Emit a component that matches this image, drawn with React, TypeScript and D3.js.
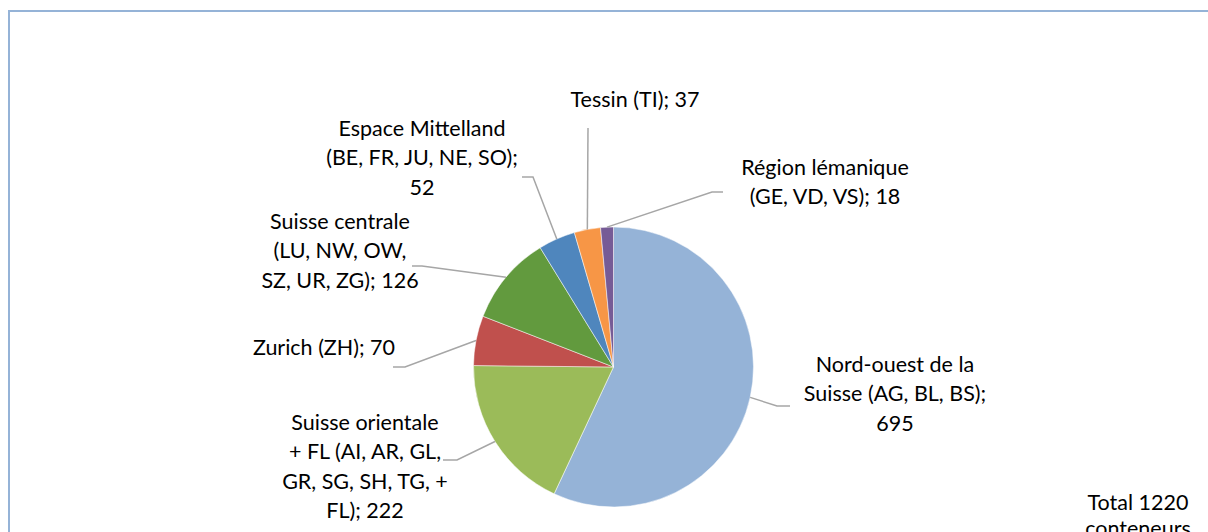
import React from 'react';
import * as d3 from 'd3';

// data
const regions = [
  'Nord-ouest de la Suisse (AG, BL, BS)',
  'Suisse orientale + FL (AI, AR, GL, GR, SG, SH, TG, + FL)',
  'Zurich (ZH)',
  'Suisse centrale (LU, NW, OW, SZ, UR, ZG)',
  'Espace Mittelland (BE, FR, JU, NE, SO)',
  'Tessin (TI)',
  'Région lémanique (GE, VD, VS)',
];
const counts = [695, 222, 70, 126, 52, 37, 18];
const labelLines = [
  ['Nord-ouest de la', 'Suisse (AG, BL, BS);', '695'],
  ['Suisse orientale', '+ FL (AI, AR, GL,', 'GR, SG, SH, TG, +', 'FL); 222'],
  ['Zurich (ZH); 70'],
  ['Suisse centrale', '(LU, NW, OW,', 'SZ, UR, ZG); 126'],
  ['Espace Mittelland', '(BE, FR, JU, NE, SO);', '52'],
  ['Tessin (TI); 37'],
  ['Région lémanique', '(GE, VD, VS); 18'],
];
const totalLines = ['Total 1220', 'conteneurs'];

// layout
const colors = ['#95B3D7', '#9BBB59', '#C0504D', '#629A3E', '#4F86BD', '#F79646', '#765B96'];
// label center x, first baseline y, leader elbow and end
const labelPos = [
  { x: 895, y: 372, elbow: [777, 406], end: [790, 406] },
  { x: 365, y: 430, elbow: [457, 460], end: [443, 460] },
  { x: 324, y: 355, elbow: [405, 367], end: [393, 367] },
  { x: 340, y: 229, elbow: [422, 266], end: [412, 266] },
  { x: 422, y: 136, elbow: [533, 177], end: [522, 177] },
  { x: 635, y: 107, elbow: [588, 128], end: [588, 128] },
  { x: 825, y: 175, elbow: [712, 192], end: [723, 192] },
];

const width = 1208;
const height = 532;
const cx = 613.5;
const cy = 367;
const radius = 140;
const lineH = 29.3;
const fontSize = 21.5;
const font = 'Lato, "Open Sans", sans-serif';

const App = () => {
  const pie = d3
    .pie<number>()
    .sort(null)
    .value((d) => d);
  const arcs = pie(counts);
  const arc = d3
    .arc<d3.PieArcDatum<number>>()
    .innerRadius(0)
    .outerRadius(radius);

  return (
    <svg
      width={width}
      height={height}
      style={{ position: 'absolute', left: 0, top: 0, background: '#fff' }}
    >
      <rect x={9} y={11} width={1230} height={600} fill="none" stroke="#95B3D7" strokeWidth={2} />
      <g transform={`translate(${cx}, ${cy})`}>
        {arcs.map((a, i) => (
          <path key={regions[i]} d={arc(a) || ''} fill={colors[i]} stroke="#fff" strokeWidth={0.5} />
        ))}
      </g>
      {arcs.map((a, i) => {
        const mid = (a.startAngle + a.endAngle) / 2;
        const sx = cx + radius * Math.sin(mid);
        const sy = cy - radius * Math.cos(mid);
        const p = labelPos[i];
        const line = d3.line()([
          [sx, sy],
          p.elbow as [number, number],
          p.end as [number, number],
        ]);
        return <path key={'l' + i} d={line || ''} fill="none" stroke="#A6A6A6" strokeWidth={1.5} />;
      })}
      {labelLines.map((lines, i) => (
        <text
          key={'t' + i}
          x={labelPos[i].x}
          y={labelPos[i].y}
          textAnchor="middle"
          fontFamily={font}
          fontSize={fontSize}
          fill="#000"
        >
          {lines.map((s, j) => (
            <tspan key={j} x={labelPos[i].x} y={labelPos[i].y + j * lineH}>
              {s}
            </tspan>
          ))}
        </text>
      ))}
      <text x={1138} y={510} textAnchor="middle" fontFamily={font} fontSize={fontSize} fill="#000">
        {totalLines.map((s, j) => (
          <tspan key={j} x={1138} y={510 + j * 26}>
            {s}
          </tspan>
        ))}
      </text>
    </svg>
  );
};

export default App;
